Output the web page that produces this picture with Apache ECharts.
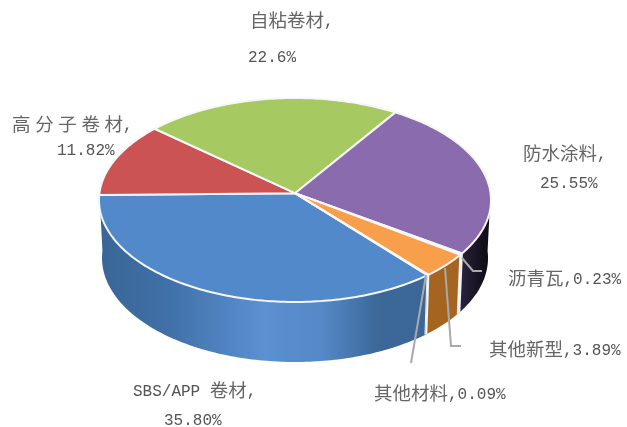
<!DOCTYPE html>
<html>
<head>
<meta charset="utf-8">
<style>
  html, body { margin: 0; padding: 0; background: #fff; }
  #chart { width: 627px; height: 427px; }
</style>
<script src="https://cdn.jsdelivr.net/npm/echarts@6/dist/echarts.min.js"></script>
</head>
<body>
<div id="chart"></div>
<script>
// data, clockwise from the front right
const names = ['SBS/APP 卷材', '高 分 子 卷 材', '自粘卷材', '防水涂料', '沥青瓦', '其他新型', '其他材料'];
const values = [35.80, 11.82, 22.60, 25.55, 0.23, 3.89, 0.09];
const valueLabels = ['35.80%', '11.82%', '22.6%', '25.55%', '0.23%', '3.89%', '0.09%'];

const topColors = ['#5289cb', '#cc5353', '#a6c961', '#8a6bae', '#2a2040', '#f79f4b', '#5289cb'];

// side wall gradient for each slice, stops run left to right across the pie
const wallStops = [
  [[0, '#3a6696'], [0.2, '#3f6fa6'], [0.5, '#5b90d2'], [0.68, '#5488c6'], [0.85, '#3c6899'], [1, '#3c6899']],
  [[0, '#8c3a3a'], [1, '#8c3a3a']],
  [[0, '#7c9a48'], [1, '#7c9a48']],
  [[0, '#2f2745'], [0.92, '#2a2340'], [0.97, '#17121f'], [1, '#0e0a14']],
  [[0, '#2a2040'], [1, '#2a2040']],
  [[0, '#a5641f'], [1, '#a5641f']],
  [[0, '#3c6899'], [1, '#3c6899']]
];

// pie geometry: top and bottom ellipse, k shifts the apex for the tilted view
const topEllipse = { cx: 295, cy: 200, rx: 196, ry: 102 };
const bottomEllipse = { cx: 295, cy: 258, rx: 193, ry: 104 };
const k = -0.067;
const startAngle = 50;

const total = values.reduce((a, b) => a + b, 0);
const slices = [];
let acc = startAngle;
values.forEach(v => {
  const sweep = v / total * 360;
  slices.push({ from: acc, to: acc + sweep });
  acc += sweep;
});

// circle angle -> point on the projected ellipse
function project(e, deg) {
  const u = Math.cos(deg * Math.PI / 180);
  const v = Math.sin(deg * Math.PI / 180);
  const d = 1 + k * v;
  return [e.cx + e.rx * u * Math.sqrt(1 - k * k) / d, e.cy + e.ry * (v + k) / d];
}

function arcPoints(e, from, to) {
  const pts = [];
  const n = Math.max(2, Math.ceil(Math.abs(to - from)));
  for (let i = 0; i <= n; i++) {
    pts.push(project(e, from + (to - from) * i / n));
  }
  return pts;
}

function renderWall(params) {
  const s = slices[params.dataIndex];
  let a = s.from;
  let b = s.to;
  // slices crossing the right end are counted from the front
  if (b > 355) {
    a = Math.max(a - 360, 0);
    b = b - 360;
  }
  // only the front of the pie shows a wall, the big slice wraps the left end
  if (a >= 178) return { type: 'group', children: [] };
  if (b >= 178) b = 180;
  const pts = arcPoints(topEllipse, a, b).concat(arcPoints(bottomEllipse, b, a));
  const children = [{
    type: 'polygon',
    shape: { points: pts },
    style: {
      fill: {
        type: 'linear', global: true,
        x: topEllipse.cx - topEllipse.rx, y: 0,
        x2: params.dataIndex === 0 ? project(topEllipse, slices[0].from)[0] : topEllipse.cx + topEllipse.rx, y2: 0,
        colorStops: wallStops[params.dataIndex].map(p => ({ offset: p[0], color: p[1] }))
      }
    }
  }];
  // white seam on the right side of the wall
  if (a > 10 && a < 170) {
    const p1 = project(topEllipse, a);
    const p2 = project(bottomEllipse, a);
    children.push({
      type: 'line',
      shape: { x1: p1[0], y1: p1[1], x2: p2[0], y2: p2[1] },
      style: { stroke: '#f4f6f8', lineWidth: 2 }
    });
  }
  return { type: 'group', children: children };
}

function renderTop(params) {
  const s = slices[params.dataIndex];
  const apex = [topEllipse.cx, topEllipse.cy + topEllipse.ry * k];
  const pts = [apex].concat(arcPoints(topEllipse, s.from, s.to));
  return {
    type: 'polygon',
    shape: { points: pts },
    style: { fill: topColors[params.dataIndex], stroke: '#f6f7f8', lineWidth: 2, lineJoin: 'round' }
  };
}

// label positions: name x, y, then value x, y (value on the same line when null)
const labelLayout = [
  [133, 392, 164, 421],
  [12, 126, 57, 151],
  [250, 22, 248, 58],
  [523, 155, 540, 184],
  [508, 280, null, null],
  [489, 351, null, null],
  [374, 395, null, null]
];
const leaderLines = [
  null, null, null, null,
  [[462, 258], [473, 271], [482, 271]],
  [[445, 268], [451, 346], [461, 346]],
  [[426, 275], [411, 363]]
];

const labelRich = {
  cn: { fontSize: 18.5, fontFamily: '"Liberation Serif", "Noto Sans CJK SC", serif', fill: '#666666' },
  num: { fontSize: 16, fontFamily: '"Liberation Mono", monospace', fill: '#555555' }
};

// chinese runs and latin runs use different fonts, as in the picture
function toRich(str) {
  return str.replace(/[\u4e00-\u9fff][\u4e00-\u9fff ]*|[^\u4e00-\u9fff]+/g, run => {
    const style = /[\u4e00-\u9fff]/.test(run) ? 'cn' : 'num';
    return '{' + style + '|' + run + '}';
  });
}

const graphics = [];
function addText(text, x, y) {
  graphics.push({
    type: 'text', z: 100, x: x, y: y,
    style: { text: toRich(text), rich: labelRich, textVerticalAlign: 'middle', textAlign: 'left' }
  });
}
names.forEach((name, i) => {
  const l = labelLayout[i];
  if (l[2] === null) {
    addText(name + ',' + valueLabels[i], l[0], l[1]);
  } else {
    addText(name + ',', l[0], l[1]);
    addText(valueLabels[i], l[2], l[3]);
  }
  if (leaderLines[i]) {
    graphics.push({
      type: 'polyline', z: 90,
      shape: { points: leaderLines[i] },
      style: { stroke: '#a9a9a9', lineWidth: 2, fill: 'none' }
    });
  }
});

const chart = echarts.init(document.getElementById('chart'), null, { renderer: 'canvas' });
chart.setOption({
  animation: false,
  backgroundColor: '#ffffff',
  graphic: graphics,
  series: [
    { type: 'custom', coordinateSystem: 'none', z: 1, silent: true, data: values, renderItem: renderWall },
    { type: 'custom', coordinateSystem: 'none', z: 2, silent: true, data: values, renderItem: renderTop }
  ]
});
</script>
</body>
</html>
